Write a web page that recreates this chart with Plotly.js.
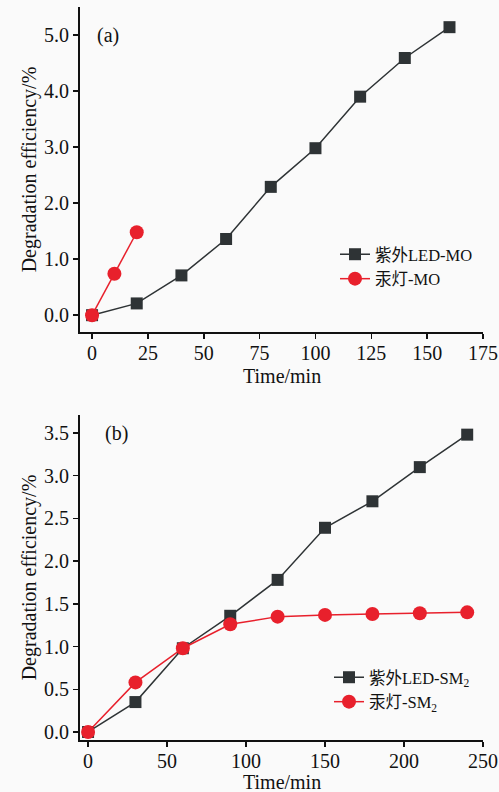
<!DOCTYPE html>
<html>
<head>
<meta charset="utf-8">
<script src="https://cdn.plot.ly/plotly-3.0.1.min.js"></script>
<style>html,body{margin:0;padding:0;background:#fafafa;}#chart{width:499px;height:792px;}</style>
</head>
<body>
<div id="chart"></div>
<script>
// Panel (a): MO
const timeA_LED = [0, 20, 40, 60, 80, 100, 120, 140, 160];
const effA_LED = [0, 0.21, 0.71, 1.36, 2.29, 2.98, 3.90, 4.59, 5.14];
const timeA_Hg = [0, 10, 20];
const effA_Hg = [0, 0.74, 1.48];
// Panel (b): SM2
const timeB = [0, 30, 60, 90, 120, 150, 180, 210, 240];
const effB_LED = [0, 0.35, 0.98, 1.36, 1.78, 2.39, 2.70, 3.10, 3.48];
const effB_Hg = [0, 0.58, 0.98, 1.26, 1.35, 1.37, 1.38, 1.39, 1.40];
const namesA = ['紫外LED-MO', '汞灯-MO'];
const namesB = ['紫外LED-SM<sub>2</sub>', '汞灯-SM<sub>2</sub>'];
const yTicksA = [0, 1, 2, 3, 4, 5];
const xTicksA = [0, 25, 50, 75, 100, 125, 150, 175];
const yTicksB = [0, 0.5, 1, 1.5, 2, 2.5, 3, 3.5];
const xTicksB = [0, 50, 100, 150, 200, 250];
const xTitle = 'Time/min';
const yTitle = 'Degradation efficiency/%';

const dark = '#2e3335';
const red = '#e8202c';
const sq = {symbol: 'square', size: 12, color: dark};
const ci = {symbol: 'circle', size: 14, color: red};

const traces = [
  {x: timeA_LED, y: effA_LED, name: namesA[0], mode: 'lines+markers', line: {color: dark, width: 1.5}, marker: sq, xaxis: 'x', yaxis: 'y', legend: 'legend'},
  {x: timeA_Hg, y: effA_Hg, name: namesA[1], mode: 'lines+markers', line: {color: red, width: 1.5}, marker: ci, xaxis: 'x', yaxis: 'y', legend: 'legend'},
  {x: timeB, y: effB_LED, name: namesB[0], mode: 'lines+markers', line: {color: dark, width: 1.5}, marker: sq, xaxis: 'x2', yaxis: 'y2', legend: 'legend2'},
  {x: timeB, y: effB_Hg, name: namesB[1], mode: 'lines+markers', line: {color: red, width: 1.5}, marker: ci, xaxis: 'x2', yaxis: 'y2', legend: 'legend2'}
];

const font = {family: '"Liberation Serif", "Times New Roman", "Noto Sans CJK SC", serif', size: 20, color: '#111'};
const legFont = Object.assign({}, font, {size: 16.5});
const axBase = {
  showline: true, linecolor: '#111', linewidth: 2, mirror: false,
  ticks: 'outside', ticklen: 5, tickwidth: 1.5, tickcolor: '#111',
  showgrid: false, zeroline: false, tickfont: font, automargin: false
};
const xBase = Object.assign({}, axBase, {ticklabelstandoff: -3});

const xDom = [80/499, 483/499];
const layout = {
  width: 499, height: 792,
  margin: {l: 0, r: 0, t: 0, b: 0},
  paper_bgcolor: '#fafafa', plot_bgcolor: '#fafafa',
  font: font,
  showlegend: true,
  xaxis: Object.assign({}, xBase, {domain: xDom, range: [-5.4, 175], tickvals: xTicksA, anchor: 'y'}),
  yaxis: Object.assign({}, axBase, {domain: [460/792, 785/792], range: [-0.3, 5.5], tickvals: yTicksA, tickformat: '.1f', anchor: 'x',
    title: {text: yTitle, font: font, standoff: 2}}),
  xaxis2: Object.assign({}, xBase, {domain: xDom, range: [-5.1, 250], tickvals: xTicksB, anchor: 'y2'}),
  yaxis2: Object.assign({}, axBase, {domain: [52/792, 377/792], range: [-0.094, 3.71], tickvals: yTicksB, tickformat: '.1f', anchor: 'x2',
    title: {text: yTitle, font: font, standoff: 2}}),
  legend: {x: 335/499, y: 1 - 237/792, xanchor: 'left', yanchor: 'top', bgcolor: 'rgba(0,0,0,0)',
    font: legFont, tracegroupgap: 0, itemwidth: 30},
  legend2: {x: 329/499, y: 1 - 660/792, xanchor: 'left', yanchor: 'top', bgcolor: 'rgba(0,0,0,0)',
    font: legFont, tracegroupgap: 0, itemwidth: 30},
  annotations: [
    {text: '(a)', xref: 'paper', yref: 'paper', x: 95/499, y: 1 - 36/792, xanchor: 'left', yanchor: 'middle', showarrow: false, font: font},
    {text: '(b)', xref: 'paper', yref: 'paper', x: 103/499, y: 1 - 433/792, xanchor: 'left', yanchor: 'middle', showarrow: false, font: font},
    {text: xTitle, xref: 'paper', yref: 'paper', x: (xDom[0] + xDom[1]) / 2, y: 1 - 376/792, xanchor: 'center', yanchor: 'middle', showarrow: false, font: font},
    {text: xTitle, xref: 'paper', yref: 'paper', x: (xDom[0] + xDom[1]) / 2, y: 1 - 782/792, xanchor: 'center', yanchor: 'middle', showarrow: false, font: font}
  ]
};

Plotly.newPlot('chart', traces, layout, {displayModeBar: false, staticPlot: true});
</script>
</body>
</html>
